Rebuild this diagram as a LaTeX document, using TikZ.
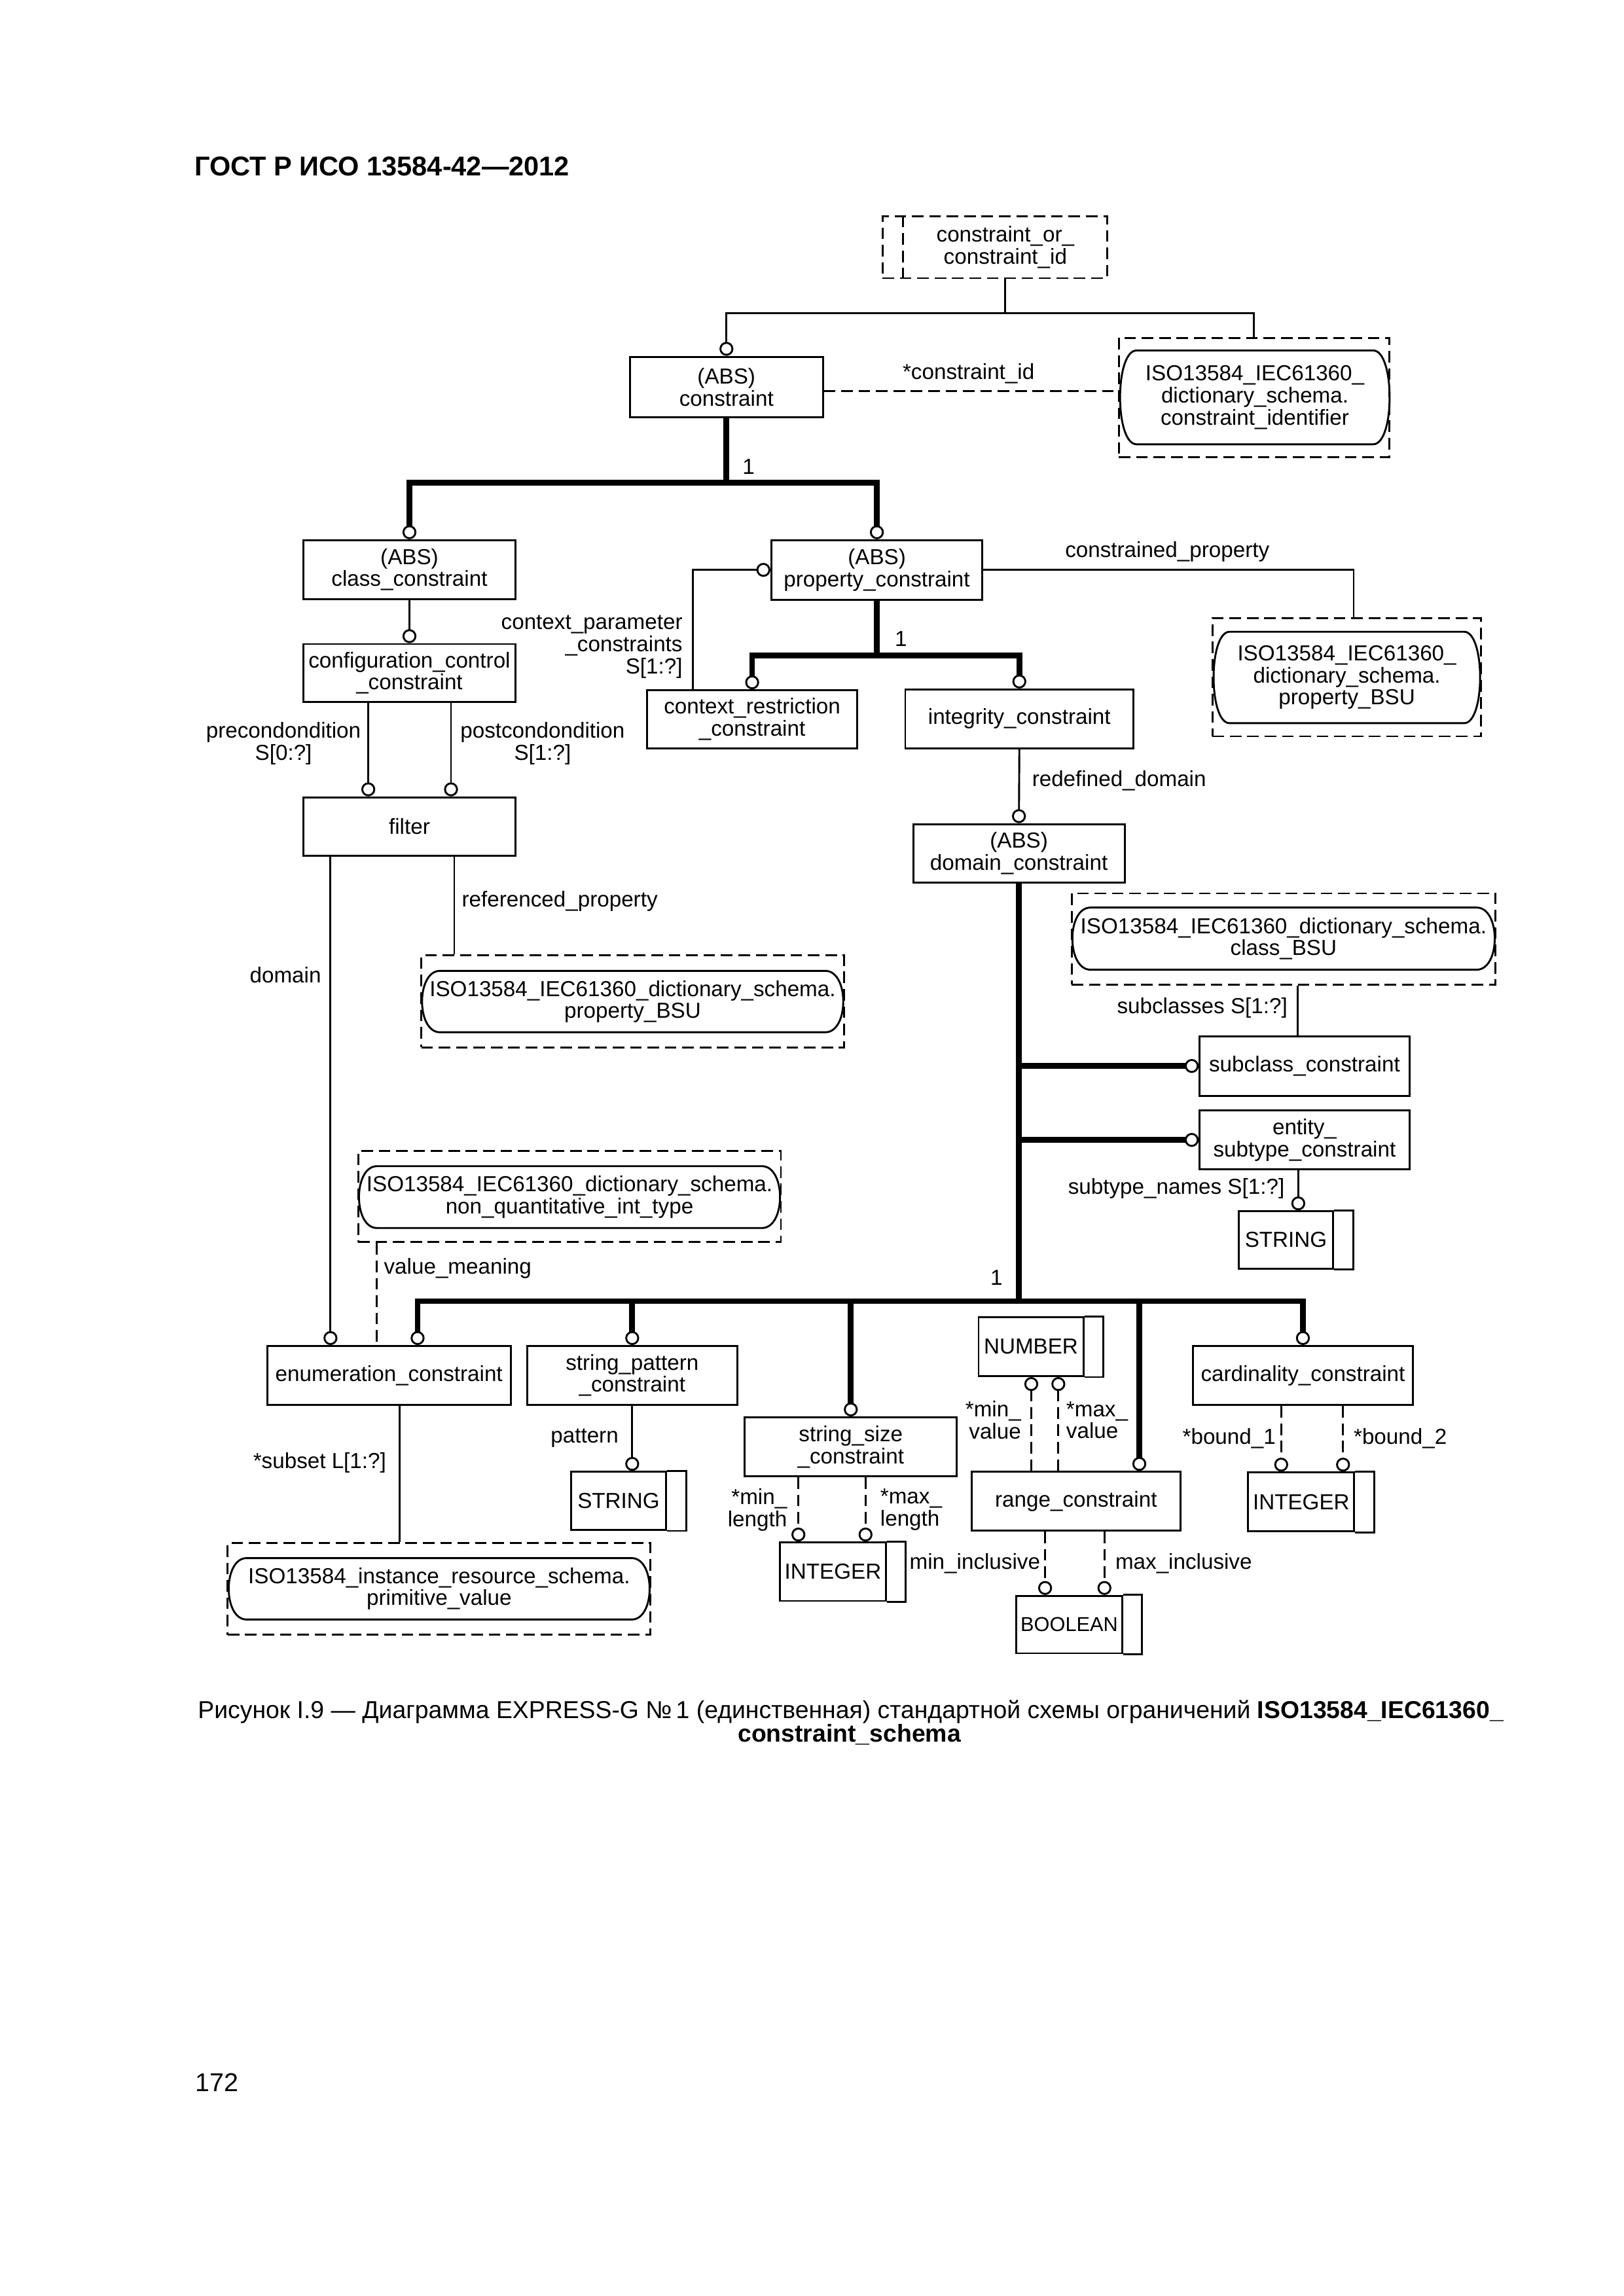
\documentclass[tikz,border=0pt]{standalone}
\usepackage{fontspec}
\setmainfont{Liberation Sans}
\usetikzlibrary{arrows.meta,calc}

\begin{document}
\begin{tikzpicture}[
x=0.19039mm,y=-0.19039mm,
every node/.style={
  font=\fontsize{8}{8.1}\selectfont
},
sz/.style 2 args={
  minimum width=#1*0.19039mm,
  minimum height=#2*0.19039mm
},
ent/.style={
  draw,
  line width=0.7pt,
  inner sep=0pt,
  align=center
},
refbox/.style={
  draw,
  line width=0.7pt,
  inner sep=0pt,
  dash pattern=on 1.5mm off 0.75mm
},
schref/.style={
  inner sep=0pt,
  align=center
},
lbl/.style={
  inner sep=0pt,
  align=center
},
rel/.style={line width=0.7pt},
thk/.style={line width=2.1pt},
opt/.style={line width=0.7pt,dash pattern=on 1.5mm off 0.75mm},
circ/.style={-{Circle[open,length=1.8mm,width=1.8mm,line width=0.7pt]}}
]
\useasboundingbox[fill=white] (0,0) rectangle (1103,1560);

\node[anchor=base west,inner sep=0pt,font=\fontsize{10}{12}\selectfont\bfseries] at (132,119.5)
  (hdr) {ГОСТ Р ИСО 13584-42—2012};

% top part
\node[refbox,sz={152.5}{42}] at (675.75,168)
  (selo) {};
\node[lbl,sz={138}{42}] at (683,168)
  (sel) {constraint\_or\_\\constraint\_id};
\draw[opt] (sel.north west) -- (sel.south west);
\node[ent,sz={131}{41.2}] at (493.5,263)
  (cns) {(ABS)\\constraint};
\node[refbox,sz={184}{81}] at (852,270)
  (cidref) {};
\node[schref,sz={181}{63}] at (852.5,270)
  (cid) {ISO13584\_IEC61360\_\\dictionary\_schema.\\constraint\_identifier};
\draw[rel] ($(cid.north west)+(10.5,0)$) -- ($(cid.north east)+(-10.5,0)$) to[out=0,in=0,looseness=0.6] ($(cid.south east)+(-10.5,0)$) -- ($(cid.south west)+(10.5,0)$) to[out=180,in=180,looseness=0.6] cycle;
\node[ent,sz={143.7}{40}] at (278.15,387)
  (cls) {(ABS)\\class\_constraint};
\node[ent,sz={143.4}{40.4}] at (595.7,387.2)
  (prc) {(ABS)\\property\_constraint};
\node[ent,sz={143.7}{39.4}] at (278.15,457.3)
  (cfg) {configuration\_control\\\_constraint};
\node[ent,sz={143.7}{39.7}] at (278.15,561.55)
  (flt) {filter};
\node[ent,sz={142.8}{39.4}] at (511,488.7)
  (ctx) {context\_restriction\\\_constraint};
\node[ent,sz={155}{40}] at (692.5,488.4)
  (itg) {integrity\_constraint};
\node[refbox,sz={182.3}{80.3}] at (914.85,460.15)
  (rbsuref) {};
\node[schref,sz={179.5}{61.4}] at (915,460.3)
  (rbsu) {ISO13584\_IEC61360\_\\dictionary\_schema.\\property\_BSU};
\draw[rel] ($(rbsu.north west)+(10.5,0)$) -- ($(rbsu.north east)+(-10.5,0)$) to[out=0,in=0,looseness=0.6] ($(rbsu.south east)+(-10.5,0)$) -- ($(rbsu.south west)+(10.5,0)$) to[out=180,in=180,looseness=0.6] cycle;
\node[refbox,sz={287.2}{62.5}] at (429.8,680.45)
  (pbsuref) {};
\node[schref,sz={285}{41}] at (429.8,680.5)
  (pbsu) {ISO13584\_IEC61360\_dictionary\_schema.\\property\_BSU};
\draw[rel] ($(pbsu.north west)+(12,0)$) -- ($(pbsu.north east)+(-12,0)$) to[out=0,in=0] ($(pbsu.south east)+(-12,0)$) -- ($(pbsu.south west)+(12,0)$) to[out=180,in=180] cycle;
\node[ent,sz={143.6}{39.7}] at (692.2,579.75)
  (dom) {(ABS)\\domain\_constraint};
\node[refbox,sz={288}{62}] at (872,638)
  (cbsuref) {};
\node[schref,sz={285.5}{41.5}] at (872,637.75)
  (cbsu) {ISO13584\_IEC61360\_dictionary\_schema.\\class\_BSU};
\draw[rel] ($(cbsu.north west)+(12,0)$) -- ($(cbsu.north east)+(-12,0)$) to[out=0,in=0] ($(cbsu.south east)+(-12,0)$) -- ($(cbsu.south west)+(12,0)$) to[out=180,in=180] cycle;
\node[ent,sz={142.5}{40.5}] at (886.25,724.25)
  (sbc) {subclass\_constraint};
\node[ent,sz={142.5}{40}] at (886.25,774.5)
  (est) {entity\_\\subtype\_constraint};
\node[ent,sz={64}{39}] at (873.6,842.5)
  (str1) {STRING};
\draw[rel] (str1.north east) -- ++(13,0) |- (str1.south east);

% bottom part
\node[refbox,sz={287.2}{62}] at (386.9,813)
  (vmnref) {};
\node[schref,sz={284.7}{41.3}] at (386.9,813.35)
  (vmn) {ISO13584\_IEC61360\_dictionary\_schema.\\non\_quantitative\_int\_type};
\draw[rel] ($(vmn.north west)+(12,0)$) -- ($(vmn.north east)+(-12,0)$) to[out=0,in=0] ($(vmn.south east)+(-12,0)$) -- ($(vmn.south west)+(12,0)$) to[out=180,in=180] cycle;
\node[ent,sz={165.5}{40}] at (264.25,934.5)
  (enm) {enumeration\_constraint};
\node[ent,sz={143}{40}] at (429.5,934.5)
  (spc) {string\_pattern\\\_constraint};
\node[ent,sz={144}{40}] at (578,983)
  (ssz) {string\_size\\\_constraint};
\node[ent,sz={71.2}{40}] at (700.4,915)
  (num) {NUMBER};
\draw[rel] (num.north east) -- ++(13,0) |- (num.south east);
\node[ent,sz={142}{40}] at (731,1020)
  (rng) {range\_constraint};
\node[ent,sz={149.1}{40.2}] at (885.15,934.6)
  (crd) {cardinality\_constraint};
\node[ent,sz={64.5}{39.5}] at (420.25,1019.75)
  (str2) {STRING};
\draw[rel] (str2.north east) -- ++(13,0) |- (str2.south east);
\node[ent,sz={71.7}{39.7}] at (565.85,1067.85)
  (int1) {INTEGER};
\draw[rel] (int1.north east) -- ++(13,0) |- (int1.south east);
\node[ent,sz={71.8}{39},font=\fontsize{7.4}{8}\selectfont] at (726.4,1103.8)
  (bool) {BOOLEAN};
\draw[rel] (bool.north east) -- ++(13,0) |- (bool.south east);
\node[ent,sz={72}{40}] at (884,1020.5)
  (int2) {INTEGER};
\draw[rel] (int2.north east) -- ++(13,0) |- (int2.south east);
\node[refbox,sz={287.3}{62.2}] at (298.35,1079.6)
  (pvref) {};
\node[schref,sz={284.8}{41}] at (298.35,1079.5)
  (pv) {ISO13584\_instance\_resource\_schema.\\primitive\_value};
\draw[rel] ($(pv.north west)+(12,0)$) -- ($(pv.north east)+(-12,0)$) to[out=0,in=0] ($(pv.south east)+(-12,0)$) -- ($(pv.south west)+(12,0)$) to[out=180,in=180] cycle;

% connectors
\coordinate (jtop) at (683,212.7);
\draw[rel] (sel.south) -- (jtop);
\draw[rel,circ] (jtop) -| (cns.north);
\draw[rel] (jtop) -| (cidref.north);
\draw[opt] (cns.east |- 0,265.8) -- (cidref.west |- 0,265.8);
\coordinate (jabs) at (493.5,328);
\draw[thk] (cns.south) -- (jabs);
\draw[thk,circ] (jabs) -| (cls.north);
\draw[thk,circ] (jabs) -| (prc.north);
\draw[rel,circ] (cls.south) -- (cfg.north);
\draw[rel,circ] (250.2,0 |- cfg.south) -- (250.2,0 |- flt.north);
\draw[rel,circ] (306.4,0 |- cfg.south) -- (306.4,0 |- flt.north);
\draw[rel,circ] (224.5,0 |- flt.south) -- (224.5,0 |- enm.north);
\draw[rel] (308.6,0 |- flt.south) -- (308.6,0 |- pbsuref.north);
\draw[rel,circ] (470.9,0 |- ctx.north) |- (prc.west);
\coordinate (jprc) at (595.7,445.5);
\draw[thk] (prc.south) -- (jprc);
\draw[thk,circ] (jprc) -| (511,0 |- ctx.north);
\draw[thk,circ] (jprc) -| (itg.north);
\draw[rel] (prc.east) -| (919.6,0 |- rbsuref.north);
\draw[rel,circ] (itg.south) -- (dom.north);
\coordinate (jdom) at (692.2,884);
\draw[thk] (dom.south) -- (jdom);
\draw[thk,circ] (dom.south |- sbc.west) -- (sbc.west);
\draw[thk,circ] (dom.south |- est.west) -- (est.west);
\draw[rel] (881.6,0 |- cbsuref.south) -- (881.6,0 |- sbc.north);
\draw[rel,circ] (882,0 |- est.south) -- (882,0 |- str1.north);
\draw[thk,circ] (jdom) -| (283.7,0 |- enm.north);
\draw[thk,circ] (jdom) -| (spc.north);
\draw[thk,circ] (jdom) -| (ssz.north);
\draw[thk,circ] (jdom) -| (774,0 |- rng.north);
\draw[thk,circ] (jdom) -| (crd.north);
\draw[opt] (256,0 |- vmnref.south) -- (256,0 |- enm.north);
\draw[rel] (271.4,0 |- enm.south) -- (271.4,0 |- pvref.north);
\draw[rel,circ] (spc.south) -- (spc.south |- str2.north);
\draw[opt,circ] (542.4,0 |- ssz.south) -- (542.4,0 |- int1.north);
\draw[opt,circ] (588,0 |- ssz.south) -- (588,0 |- int1.north);
\draw[opt,circ] (700.6,0 |- rng.north) -- (700.6,0 |- num.south);
\draw[opt,circ] (719,0 |- rng.north) -- (719,0 |- num.south);
\draw[opt,circ] (710,0 |- rng.south) -- (710,0 |- bool.north);
\draw[opt,circ] (750.3,0 |- rng.south) -- (750.3,0 |- bool.north);
\draw[opt,circ] (870.4,0 |- crd.south) -- (870.4,0 |- int2.north);
\draw[opt,circ] (912.4,0 |- crd.south) -- (912.4,0 |- int2.north);

% labels
\node[lbl] at (658,254) (lcid) {*constraint\_id};
\node[lbl] at (508.5,317) (lone1) {1};
\node[lbl,anchor=east,align=right] at (464,439.5) (lctx) {context\_parameter\\\_constraints\\S[1:?]};
\node[lbl] at (612,434) (lone2) {1};
\node[lbl] at (793,375) (lcp) {constrained\_property};
\node[lbl,anchor=east] at (245.5,505) (lpre) {precondondition\\S[0:?]};
\node[lbl,anchor=west] at (312.4,505) (lpost) {postcondondition\\S[1:?]};
\node[lbl,anchor=west] at (700.8,530.6) (lred) {redefined\_domain};
\node[lbl,anchor=west] at (313.4,612.2) (lref) {referenced\_property};
\node[lbl,anchor=east] at (218.5,662.3) (ldom) {domain};
\node[lbl,anchor=east] at (875,685) (lsub) {subclasses S[1:?]};
\node[lbl,anchor=east] at (873,807.5) (lstn) {subtype\_names S[1:?]};
\node[lbl,anchor=west] at (260.5,862) (lvm) {value\_meaning};
\node[lbl] at (677,868) (lone3) {1};
\node[lbl,anchor=east] at (420.5,977) (lpat) {pattern};
\node[lbl,anchor=east] at (262.7,994) (lsubset) {*subset L[1:?]};
\node[lbl,anchor=east,align=right] at (535,1025.8) (lminl) {*min\_\\length};
\node[lbl,anchor=west,align=left] at (597.7,1025.8) (lmaxl) {*max\_\\length};
\node[lbl,anchor=east,align=right] at (694,964.8) (lminv) {*min\_\\value};
\node[lbl,anchor=west,align=left] at (724,964.8) (lmaxv) {*max\_\\value};
\node[lbl,anchor=east] at (707,1062.4) (lmini) {min\_inclusive};
\node[lbl,anchor=west] at (757.4,1062.4) (lmaxi) {max\_inclusive};
\node[lbl,anchor=east] at (867,977.3) (lb1) {*bound\_1};
\node[lbl,anchor=west] at (919.3,977.3) (lb2) {*bound\_2};

% caption
\node[anchor=base,inner sep=0pt,font=\fontsize{9}{9}\selectfont] at (578,1167.5)
  (cap1) {Рисунок I.9 — Диаграмма EXPRESS-G №\,1 (единственная) стандартной схемы ограничений \textbf{ISO13584\_IEC61360\_}};
\node[anchor=base,inner sep=0pt,font=\fontsize{9}{9}\selectfont\bfseries] at (577,1183.7)
  (cap2) {constraint\_schema};
\node[anchor=base west,inner sep=0pt,font=\fontsize{9.5}{11}\selectfont] at (132.5,1421)
  (pgno) {172};
\end{tikzpicture}
\end{document}
